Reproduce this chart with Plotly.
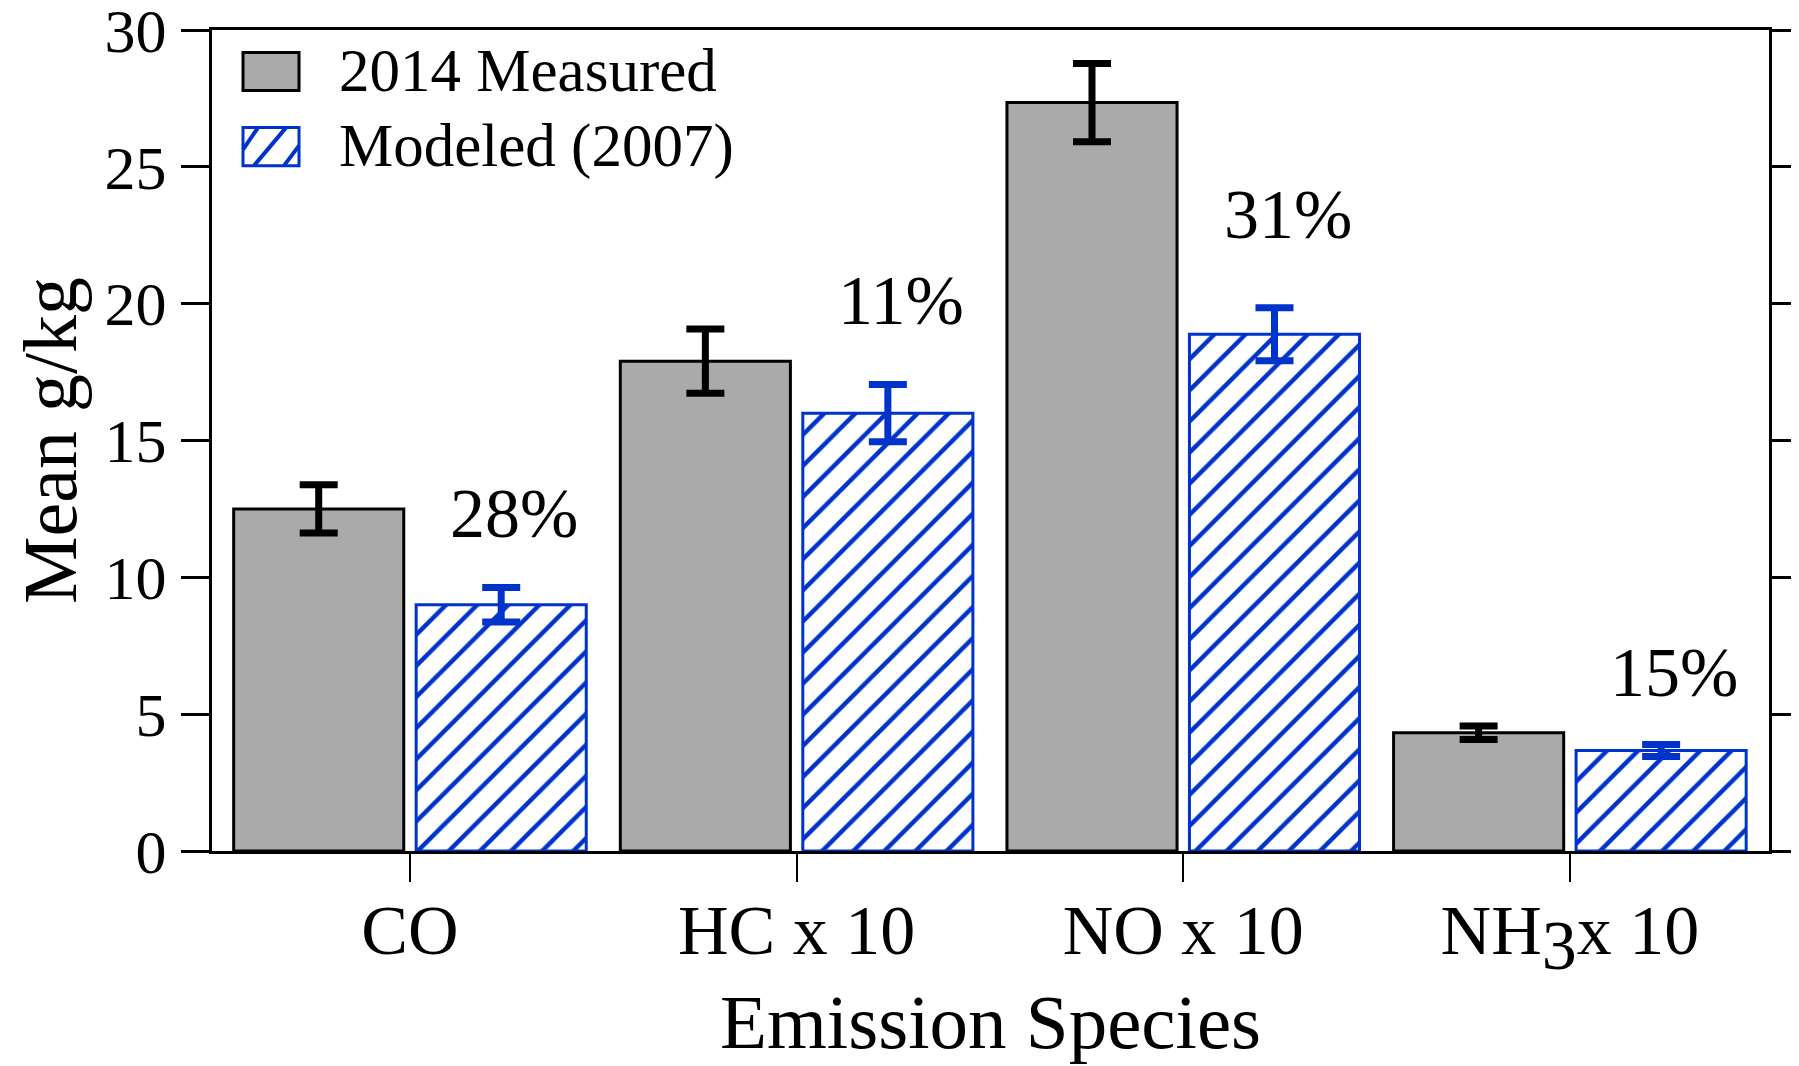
import plotly.graph_objects as go

# ---- data ----
categories = ["CO", "HC x 10", "NO x 10",
              "NH<sub><span style=\"font-size:70px\">3</span></sub>x 10"]
measured = [12.5, 17.9, 27.35, 4.32]
measured_err = [0.88, 1.17, 1.43, 0.25]
modeled = [9.0, 16.0, 18.88, 3.67]
modeled_err = [0.63, 1.05, 0.97, 0.22]
pct_labels = ["28%", "11%", "31%", "15%"]
pct_y = [12.35, 20.12, 23.25, 6.51]
pct_dx = 0.27
y_ticks = [0, 5, 10, 15, 20, 25, 30]

FONT = "Liberation Serif"
BLUE = "#0033CC"
GRAY = "#AAAAAA"

# page body has an 8px default margin; compensate so the plot lands where the reference's does
OFF = 8
FIG_W, FIG_H = 1799 - OFF, 1066 - OFF
ML, MR, MT, MB = 212 - OFF, 30.4, 30.4 - OFF, 214.8

fig = go.Figure()
fig.add_trace(go.Bar(
    x=categories, y=measured, name="2014 Measured",
    marker=dict(color=GRAY, line=dict(color="black", width=3)),
    error_y=dict(type="data", array=measured_err, visible=True,
                 color="black", thickness=7, width=19),
))
fig.add_trace(go.Bar(
    x=categories, y=modeled, name="Modeled (2007)",
    marker=dict(color="white", line=dict(color=BLUE, width=3),
                pattern=dict(shape="/", fgcolor=BLUE, bgcolor="white",
                             size=22, solidity=0.2, fillmode="replace", fgopacity=1)),
    error_y=dict(type="data", array=modeled_err, visible=True,
                 color=BLUE, thickness=7, width=19),
))

for i, (t, yv) in enumerate(zip(pct_labels, pct_y)):
    fig.add_annotation(x=i + pct_dx, y=yv, text=t, showarrow=False,
                       xref="x", yref="y", xanchor="center", yanchor="middle",
                       font=dict(family=FONT, size=70, color="black"))

# custom legend (page pixel coordinates converted to paper fractions)
L = 212.0
W = 1799 - MR - L
B = 1066 - MB
H = B - 30.4
def px(x):
    return (x - L) / W
def py(y):
    return (B - y) / H

fig.add_shape(type="rect", xref="paper", yref="paper",
              x0=px(243), x1=px(299), y0=py(91), y1=py(53),
              fillcolor=GRAY, line=dict(color="black", width=3))
fig.add_shape(type="rect", xref="paper", yref="paper",
              x0=px(243), x1=px(299), y0=py(166), y1=py(128),
              fillcolor="white", line=dict(color=BLUE, width=3))
for (xa, ya, xb, yb) in [(243, 150, 258, 128), (254, 166, 286, 128), (284, 166, 299, 146)]:
    fig.add_shape(type="line", xref="paper", yref="paper",
                  x0=px(xa), y0=py(ya), x1=px(xb), y1=py(yb),
                  line=dict(color=BLUE, width=4))
fig.add_annotation(x=px(337), y=py(71), xref="paper", yref="paper",
                   text="2014 Measured", showarrow=False, xanchor="left", yanchor="middle",
                   font=dict(family=FONT, size=61, color="black"))
fig.add_annotation(x=px(337), y=py(146), xref="paper", yref="paper",
                   text="Modeled (2007)", showarrow=False, xanchor="left", yanchor="middle",
                   font=dict(family=FONT, size=61, color="black"))

fig.update_layout(
    width=FIG_W, height=FIG_H,
    margin=dict(l=ML, r=MR, t=MT, b=MB, pad=0),
    paper_bgcolor="white", plot_bgcolor="white",
    barmode="group", bargap=0.056, bargroupgap=0.068,
    showlegend=False,
    font=dict(family=FONT, color="black"),
)
fig.update_xaxes(
    type="category", range=[-0.512, 3.515],
    showline=True, linecolor="black", linewidth=3, mirror=True,
    ticks="outside", ticklen=28, tickwidth=2, tickcolor="black",
    tickfont=dict(family=FONT, size=70), ticklabelstandoff=-12,
    showgrid=False, zeroline=False,
    title=dict(text="Emission Species", font=dict(family=FONT, size=77), standoff=12),
    automargin=False,
)
fig.update_yaxes(
    range=[0, 30], tickvals=y_ticks,
    showline=True, linecolor="black", linewidth=3, mirror="ticks",
    ticks="outside", ticklen=28, tickwidth=3, tickcolor="black",
    tickfont=dict(family=FONT, size=62), ticklabelstandoff=2,
    ticklabeloverflow="allow",
    showgrid=False, zeroline=False,
    title=dict(text="Mean g/kg", font=dict(family=FONT, size=76), standoff=10),
    automargin=False,
)

fig.write_html("out.html")
